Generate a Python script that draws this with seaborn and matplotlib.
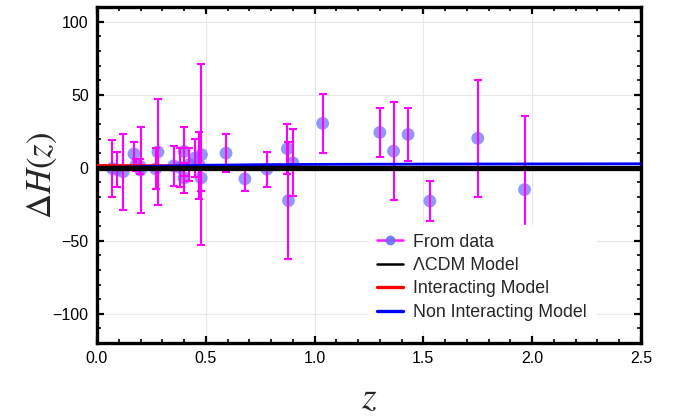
import numpy as np
import pandas as pd
import matplotlib
matplotlib.use("Agg")
import matplotlib.pyplot as plt
from matplotlib.lines import Line2D
from matplotlib.ticker import MultipleLocator
import seaborn as sns

# Cosmic-chronometer residuals Delta H(z) = H_obs - H_LCDM
z_obs = [0.07, 0.09, 0.12, 0.17, 0.179, 0.199, 0.2, 0.27, 0.28, 0.352,
         0.3802, 0.4, 0.4004, 0.4247, 0.4497, 0.47, 0.4783, 0.48, 0.593, 0.68,
         0.781, 0.875, 0.88, 0.9, 1.037, 1.3, 1.363, 1.43, 1.53, 1.75, 1.965]
dH_obs = [-0.5, -1.3, -2.8, 9.5, 1.8, 0.8, -1.6, -0.8, 10.8, 1.2,
          0.2, 11.2, -7.0, 2.2, 6.6, 1.8, -7.0, 9.0, 10.0, -7.6,
          -1.0, 13.0, -22.5, 3.4, 30.4, 24.2, 11.4, 22.8, -22.8, 20.2, -15.0]
dH_err = [19.6, 12.0, 26.2, 8.0, 4.0, 5.0, 29.6, 14.0, 36.6, 14.0,
          13.5, 17.0, 10.2, 11.2, 12.9, 23.0, 9.0, 62.0, 13.0, 8.0,
          12.0, 17.0, 40.0, 23.0, 20.0, 17.0, 33.6, 18.0, 14.0, 40.0, 50.4]

# Model residuals relative to LCDM
z_model = [0.0, 0.25, 0.5, 0.75, 1.0, 1.5, 2.0, 2.5]
dH_lcdm = [0.0, 0.0, 0.0, 0.0, 0.0, 0.0, 0.0, 0.0]
dH_interacting = [1.8, 1.7, 1.4, 1.0, 0.6, -0.1, -0.7, -1.2]
dH_noninteracting = [0.0, 1.0, 1.7, 2.1, 2.3, 2.5, 2.6, 2.7]

obs = pd.DataFrame({"z": z_obs, "dH": dH_obs, "err": dH_err})
models = pd.DataFrame({"z": z_model, "lcdm": dH_lcdm,
                       "inter": dH_interacting, "noninter": dH_noninteracting})

sns.set_theme(style="ticks")
plt.rcParams["font.family"] = ["Liberation Sans", "DejaVu Sans"]
plt.rcParams["mathtext.fontset"] = "stix"

fig, ax = plt.subplots(figsize=(6.84, 4.17), dpi=100)
fig.subplots_adjust(left=0.1418, right=0.937, top=0.983, bottom=0.1775)

dot_color = (0.40, 0.44, 0.97)
sns.scatterplot(data=obs, x="z", y="dH", ax=ax, color=dot_color, s=85,
                alpha=0.72, edgecolor="none", zorder=2, legend=False)
ax.errorbar(obs["z"], obs["dH"], yerr=obs["err"], fmt="none",
            ecolor="#ff00ff", elinewidth=1.5, capsize=3.2, capthick=1.5, zorder=3)

sns.lineplot(data=models, x="z", y="inter", ax=ax, color="red", lw=1.5, zorder=4)
sns.lineplot(data=models, x="z", y="noninter", ax=ax, color="blue", lw=2.0, zorder=4)
sns.lineplot(data=models, x="z", y="lcdm", ax=ax, color="black", lw=3.8, zorder=5)

ax.set_xlim(0, 2.5)
ax.set_ylim(-120, 110)
ax.xaxis.set_major_locator(MultipleLocator(0.5))
ax.xaxis.set_minor_locator(MultipleLocator(0.1))
ax.yaxis.set_major_locator(MultipleLocator(50))
ax.yaxis.set_minor_locator(MultipleLocator(10))
ax.grid(True, which="major", color="#e8e8e8", lw=0.8, zorder=0)
ax.set_axisbelow(True)

ax.tick_params(which="both", direction="in", top=True, right=True,
               colors="black", labelsize=11.5)
ax.tick_params(which="major", length=5, width=1.6, pad=6)
ax.tick_params(which="minor", length=3, width=1.2)
for sp in ax.spines.values():
    sp.set_linewidth(2.4)
    sp.set_color("black")

ax.set_xlabel(r"$z$", fontsize=27, labelpad=10)
ax.set_ylabel(r"$\Delta H(z)$", fontsize=25, labelpad=-4.5)

handles = [
    Line2D([], [], color="#ff00ff", lw=1.8, marker="o", markersize=7,
           markerfacecolor=dot_color, markeredgecolor="none", alpha=0.9),
    Line2D([], [], color="black", lw=1.8),
    Line2D([], [], color="red", lw=2.4),
    Line2D([], [], color="blue", lw=2.4),
]
labels = ["From data", "ΛCDM Model", "Interacting Model", "Non Interacting Model"]
leg = ax.legend(handles, labels, loc="upper left", bbox_to_anchor=(0.498, 0.352),
                borderaxespad=0, frameon=True, fancybox=False, framealpha=1,
                edgecolor="white", fontsize=12.8, handlelength=1.5,
                handletextpad=0.55, labelspacing=0.36, borderpad=0.5)
leg.set_zorder(10)

fig.savefig("out.png", dpi=100)
